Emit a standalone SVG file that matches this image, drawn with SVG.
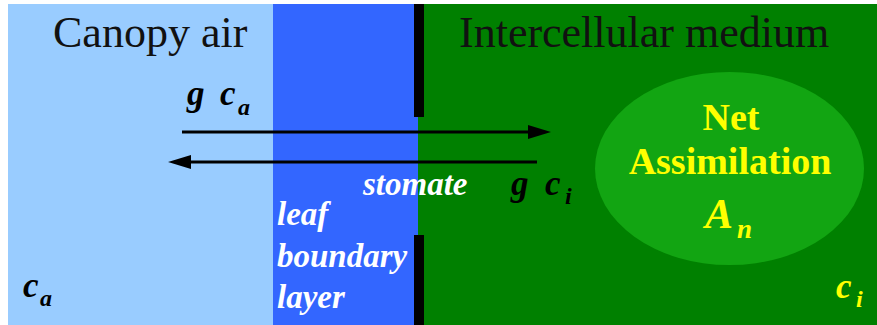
<svg xmlns="http://www.w3.org/2000/svg" width="877" height="325" viewBox="0 0 877 325">
  <defs>
    <style>
      text { font-family: 'Liberation Serif', 'DejaVu Serif', serif; }
      .title { font-size: 44px; fill: #111; }
      .sym { font-weight: bold; font-style: italic; }
      .lbl { font-weight: bold; font-style: italic; font-size: 33px; fill: #fff; }
      .yel { fill: #ffff00; }
      .flux { stroke: #000; stroke-width: 3; fill: none; }
      .bar { fill: #000; }
    </style>
    <marker id="head" markerUnits="userSpaceOnUse" markerWidth="24" markerHeight="14" refX="0" refY="7" orient="auto" overflow="visible">
      <path d="M0,0 L23,7 L0,14 z" fill="#000"/>
    </marker>
  </defs>

  <rect x="0" y="0" width="877" height="325" fill="#fff"/>

  <!-- canopy air region -->
  <g id="canopy-air">
    <rect x="8" y="4" width="266" height="321" fill="#99ccff"/>
    <text class="title" x="53" y="47">Canopy air</text>
    <text class="sym" x="23" y="297" font-size="35" fill="#000">c<tspan font-size="24" x="40" y="306">a</tspan></text>
  </g>

  <!-- leaf boundary layer -->
  <g id="boundary-layer">
    <rect x="273" y="4" width="146" height="321" fill="#3366ff"/>
    <text class="lbl" x="277" y="225">leaf</text>
    <text class="lbl" x="277" y="267">boundary</text>
    <text class="lbl" x="277" y="308">layer</text>
  </g>

  <!-- intercellular medium -->
  <g id="intercellular">
    <rect x="418" y="4" width="459" height="321" fill="#008000"/>
    <text class="title" x="459" y="47">Intercellular medium</text>
    <text class="sym yel" x="836" y="298" font-size="35">c<tspan font-size="24" x="856" y="307">i</tspan></text>
  </g>

  <!-- net assimilation sink -->
  <g id="assimilation">
    <ellipse cx="729.5" cy="168.5" rx="134.5" ry="96.5" fill="#12a512"/>
    <text class="yel" x="731" y="130" font-size="38" font-weight="bold" text-anchor="middle">Net</text>
    <text class="yel" x="730" y="174" font-size="38" font-weight="bold" text-anchor="middle">Assimilation</text>
    <text class="sym yel" x="705" y="228" font-size="42">A<tspan font-size="27" x="737" y="238">n</tspan></text>
  </g>

  <!-- stomate: guard walls with an opening -->
  <g id="stomate">
    <rect class="bar" x="414" y="4" width="10" height="113"/>
    <rect class="bar" x="414" y="235" width="10" height="90"/>
    <text class="lbl" x="363" y="195">stomate</text>
  </g>

  <!-- flux connectors -->
  <g id="connectors">
    <line class="flux" x1="182" y1="132" x2="528" y2="132" marker-end="url(#head)"/>
    <line class="flux" x1="537" y1="162" x2="191" y2="162" marker-end="url(#head)"/>
    <text class="sym" x="187" y="105" font-size="35" fill="#000">g<tspan x="220">c</tspan><tspan font-size="24" x="238" y="115">a</tspan></text>
    <text class="sym" x="511" y="195" font-size="35" fill="#000">g<tspan x="545">c</tspan><tspan font-size="24" x="565" y="204">i</tspan></text>
  </g>
</svg>
